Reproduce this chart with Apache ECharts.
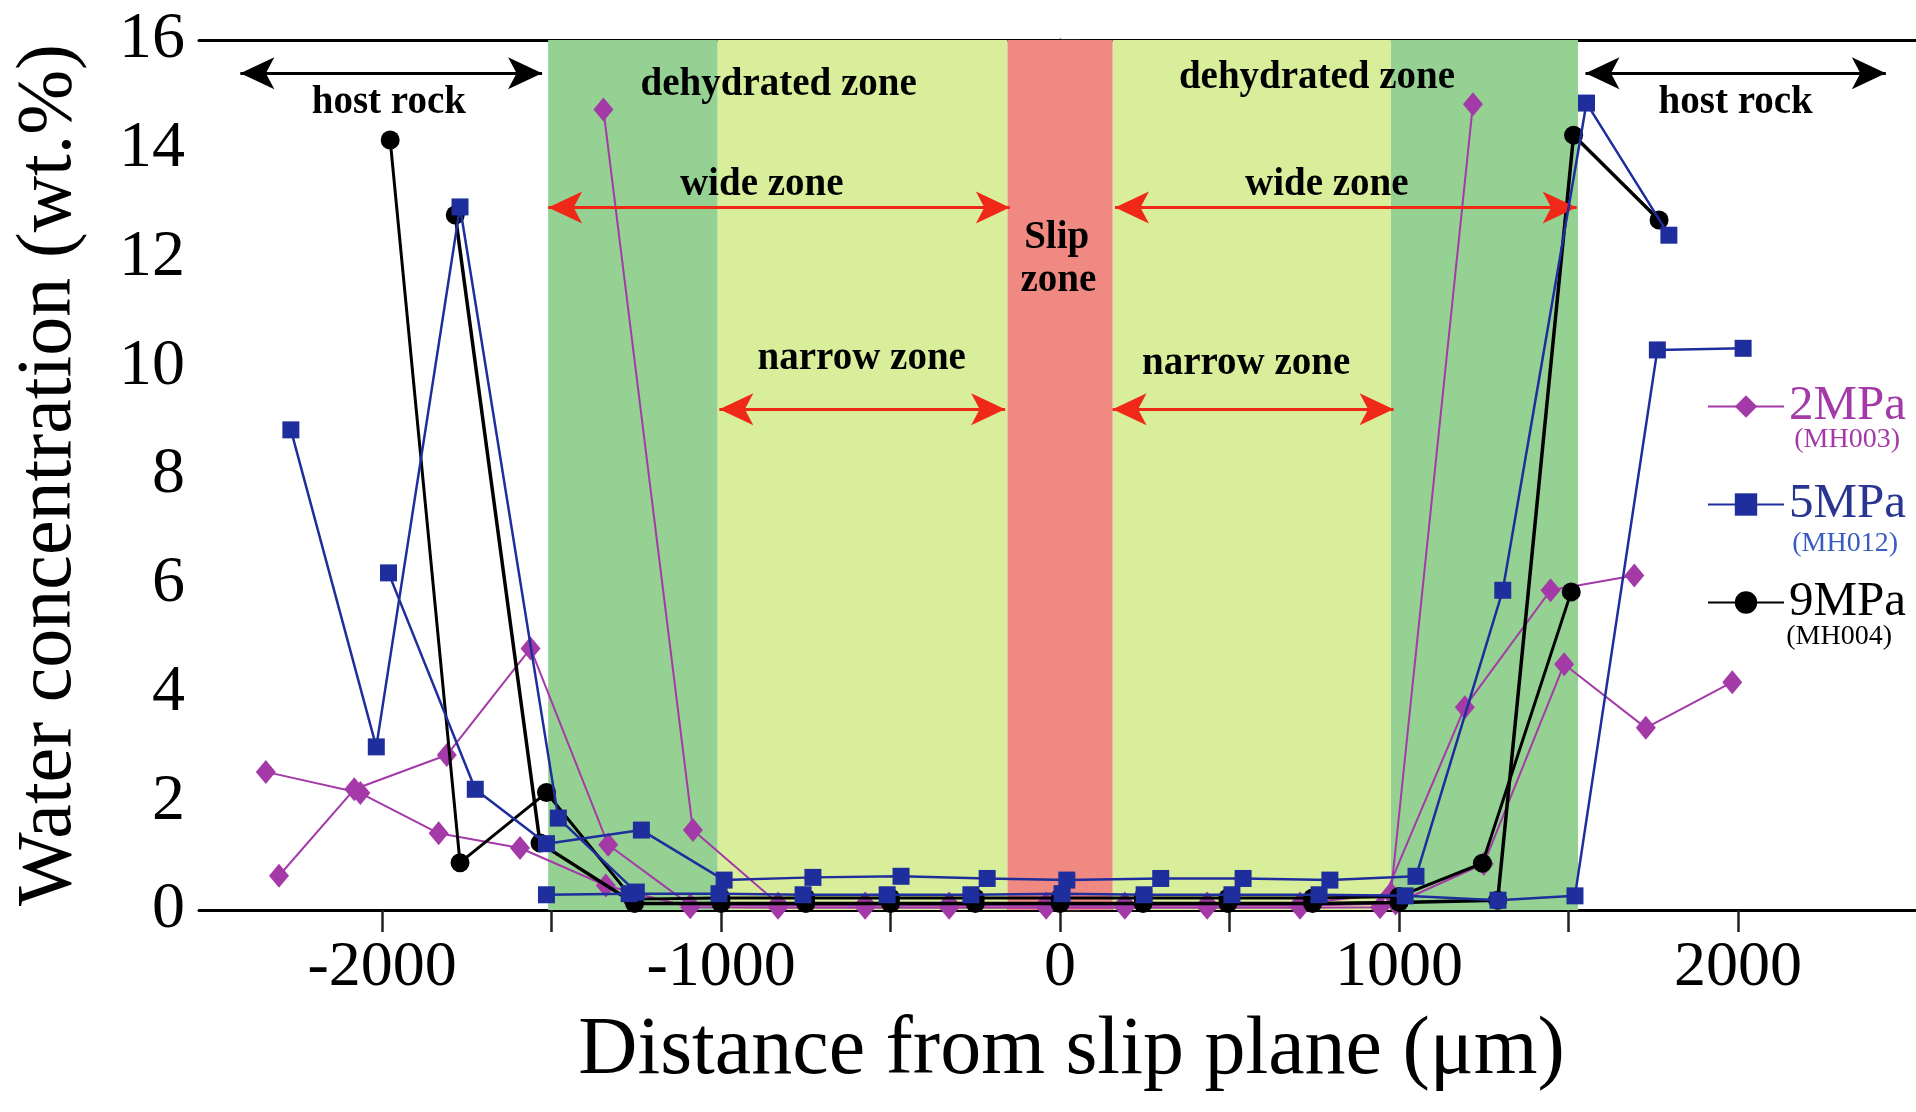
<!DOCTYPE html>
<html>
<head>
<meta charset="utf-8">
<title>Water concentration vs distance from slip plane</title>
<script src="https://cdn.jsdelivr.net/npm/echarts@6/dist/echarts.min.js"></script>
<style>
html, body { margin: 0; padding: 0; background: #fff; }
#chart { width: 1916px; height: 1112px; }
</style>
</head>
<body>
<div id="chart"></div>
<script>
// tick values
const xTicks = [-2000, -1500, -1000, -500, 0, 500, 1000, 1500, 2000]
const xLabels = [-2000, -1000, 0, 1000, 2000]

// 2MPa (MH003) traverses
const mpa2A = [[-2343, 2.54], [-2064, 2.15], [-1833, 1.41], [-1593, 1.14], [-1340, 0.45], [-1091, 0.05], [-832, 0.04], [-575, 0.04], [-327, 0.04], [-41, 0.04], [191, 0.04], [434, 0.04], [708, 0.04], [944, 0.05], [1194, 3.73], [1447, 5.88], [1694, 6.15]]
const mpa2B = [[-2304, 0.63], [-2082, 2.22], [-1809, 2.85], [-1562, 4.81], [-1333, 1.2], [-1091, 0.09], [-832, 0.08], [-575, 0.08], [-327, 0.08], [-41, 0.08], [191, 0.08], [434, 0.08], [708, 0.08], [990, 0.12], [1250, 0.85], [1487, 4.52], [1728, 3.35], [1983, 4.19]]
const mpa2C = [[-1347, 14.72], [-1083, 1.47], [-832, 0.12], [-575, 0.12], [-327, 0.12], [-41, 0.12], [191, 0.12], [434, 0.12], [708, 0.12], [976, 0.3], [1218, 14.82]]

// 5MPa (MH012) traverses
const mpa5A = [[-2269, 8.83], [-2017, 3.0], [-1770, 12.93], [-1480, 1.69], [-1250, 0.33]]
const mpa5B = [[-1981, 6.2], [-1725, 2.22], [-1515, 1.22], [-1235, 1.47], [-991, 0.55], [-729, 0.6], [-469, 0.62], [-215, 0.58], [20, 0.55], [297, 0.58], [540, 0.58], [796, 0.55], [1050, 0.62], [1306, 5.88], [1553, 14.84], [1796, 12.41]]
const mpa5C = [[-1515, 0.28], [-1271, 0.3], [-1006, 0.3], [-758, 0.28], [-510, 0.28], [-263, 0.28], [6, 0.3], [248, 0.28], [507, 0.28], [764, 0.28], [1018, 0.26], [1292, 0.18], [1519, 0.26], [1762, 10.3], [2015, 10.33]]

// 9MPa (MH004) traverses
const mpa9A = [[-1976, 14.16], [-1770, 0.87], [-1515, 2.16], [-1260, 0.2], [-1000, 0.22], [-750, 0.22], [-500, 0.22], [-250, 0.22], [0, 0.22], [245, 0.22], [495, 0.22], [745, 0.22], [1000, 0.25], [1246, 0.86], [1508, 5.85]]
const mpa9B = [[-1784, 12.78], [-1534, 1.23], [-1255, 0.12], [-1000, 0.12], [-750, 0.12], [-500, 0.12], [-250, 0.12], [0, 0.12], [245, 0.12], [495, 0.12], [745, 0.12], [1000, 0.14], [1291, 0.18], [1515, 14.25], [1767, 12.69]]

// zones (x ranges, um)
const dehydratedZones = [[-1510, -1010], [976, 1528]]
const wideOnlyZones = [[-1010, -155], [155, 976]]
const slipZone = [[-155, 155]]

// arrows [x1, x2, y]
const hostArrows = [[-2418, -1528, 15.39], [1550, 2436, 15.39]]
const wideArrows = [[-1510, -148, 12.92], [162, 1524, 12.92]]
const narrowArrows = [[-1005, -162, 9.21], [155, 984, 9.21]]

// annotations [x, y, text]
const notes = [
  [-1980, 14.85, 'host rock'],
  [1993, 14.85, 'host rock'],
  [-830, 15.17, 'dehydrated zone'],
  [758, 15.3, 'dehydrated zone'],
  [-880, 13.33, 'wide zone'],
  [787, 13.33, 'wide zone'],
  [-10, 12.36, 'Slip'],
  [-5, 11.57, 'zone'],
  [-585, 10.13, 'narrow zone'],
  [549, 10.04, 'narrow zone']
]

const MAG = '#a43aa8'
const BLUE = '#1e2e9c'
const BLACK = '#000000'
const FONT = 'Liberation Serif'

const chart = echarts.init(document.getElementById('chart'))

const lineSeries = (name, data, color, symbol, size, width, z) => ({
  name,
  type: 'line',
  data,
  z,
  symbol,
  symbolSize: size,
  showSymbol: true,
  itemStyle: { color },
  lineStyle: { color, width },
  emphasis: { disabled: true }
})

const areaData = (ranges, color) => ranges.map(r => [{ xAxis: r[0], itemStyle: { color } }, { xAxis: r[1] }])
const arrowData = (list, color) => list.map(a => [
  { coord: [a[0], a[2]], lineStyle: { color, width: 3, type: 'solid' } },
  { coord: [a[1], a[2]] }
])

const option = {
  animation: false,
  backgroundColor: '#fff',
  grid: { left: 199, right: 0, top: 40, bottom: 202, containLabel: false },
  legend: {
    data: [
      { name: '2MPa', textStyle: { color: MAG } },
      { name: '5MPa', textStyle: { color: '#2a3592' } },
      { name: '9MPa', textStyle: { color: BLACK } }
    ],
    orient: 'vertical',
    left: 1702,
    top: 377,
    itemWidth: 76,
    itemHeight: 28,
    itemGap: 49,
    itemTextGap: 9,
    selectedMode: false,
    textStyle: { fontFamily: FONT, fontSize: 49, lineHeight: 48 }
  },
  xAxis: [
    {
      type: 'value',
      min: -2540,
      max: 2525,
      name: 'Distance from slip plane (\u03bcm)',
      nameLocation: 'middle',
      nameGap: 100,
      nameTextStyle: { fontFamily: FONT, fontSize: 82, color: BLACK, padding: [0, 0, 0, 28] },
      axisLine: { lineStyle: { color: BLACK, width: 3 } },
      axisTick: { show: true, inside: false, length: 22, lineStyle: { color: '#222', width: 2.5 }, customValues: xTicks },
      axisLabel: { fontFamily: FONT, fontSize: 64, color: BLACK, margin: 26, customValues: xLabels, formatter: v => String(v) },
      splitLine: { show: false }
    },
    {
      type: 'value',
      position: 'top',
      min: -2540,
      max: 2525,
      axisLine: { show: true, lineStyle: { color: BLACK, width: 3 } },
      axisTick: { show: false },
      axisLabel: { show: false },
      splitLine: { show: false }
    }
  ],
  yAxis: {
    type: 'value',
    min: 0,
    max: 16,
    interval: 2,
    name: 'Water concentration (wt.%)',
    nameLocation: 'middle',
    nameGap: 110,
    nameTextStyle: { fontFamily: FONT, fontSize: 78, color: BLACK },
    axisLine: { show: true, lineStyle: { color: BLACK, width: 3 } },
    axisTick: { show: true, inside: true, length: 20, lineStyle: { color: '#222', width: 2.5 } },
    axisLabel: { fontFamily: FONT, fontSize: 66, color: BLACK, margin: 14 },
    splitLine: { show: false }
  },
  graphic: [
    { type: 'text', x: 1900, y: 440, style: { text: '(MH003)', font: '28px "Liberation Serif"', fill: MAG, textAlign: 'right', textVerticalAlign: 'middle' } },
    { type: 'text', x: 1898, y: 544, style: { text: '(MH012)', font: '28px "Liberation Serif"', fill: '#3a5cc0', textAlign: 'right', textVerticalAlign: 'middle' } },
    { type: 'text', x: 1892, y: 637, style: { text: '(MH004)', font: '28px "Liberation Serif"', fill: BLACK, textAlign: 'right', textVerticalAlign: 'middle' } }
  ],
  series: [
    {
      name: 'zones',
      type: 'scatter',
      data: [],
      z: 1,
      silent: true,
      markArea: {
        silent: true,
        data: [
          ...areaData(dehydratedZones, '#95d193'),
          ...areaData(wideOnlyZones, '#d9ee9b'),
          ...areaData(slipZone, '#ef8981')
        ]
      }
    },
    lineSeries('2MPa', mpa2A, MAG, 'diamond', [20, 24], 2, 3),
    lineSeries('2MPa', mpa2B, MAG, 'diamond', [20, 24], 2, 3),
    lineSeries('2MPa', mpa2C, MAG, 'diamond', [20, 24], 2, 3),
    lineSeries('9MPa', mpa9A, BLACK, 'circle', 19, 3, 4),
    lineSeries('9MPa', mpa9B, BLACK, 'circle', 19, 3.5, 4),
    lineSeries('5MPa', mpa5A, BLUE, 'rect', 17, 2.5, 5),
    lineSeries('5MPa', mpa5B, BLUE, 'rect', 17, 2.5, 5),
    lineSeries('5MPa', mpa5C, BLUE, 'rect', 17, 2.5, 5),
    {
      name: 'arrows',
      type: 'scatter',
      data: [],
      z: 6,
      silent: true,
      markLine: {
        silent: true,
        symbol: ['arrow', 'arrow'],
        symbolSize: [24, 34],
        label: { show: false },
        emphasis: { disabled: true },
        data: [
          ...arrowData(hostArrows, '#000'),
          ...arrowData(wideArrows, '#f02818'),
          ...arrowData(narrowArrows, '#f02818')
        ]
      }
    },
    {
      name: 'notes',
      type: 'scatter',
      z: 7,
      silent: true,
      symbolSize: 0,
      itemStyle: { opacity: 1 },
      data: notes.map(n => ({ value: [n[0], n[1]], name: n[2] })),
      label: {
        show: true,
        position: 'inside',
        formatter: '{b}',
        fontFamily: FONT,
        fontWeight: 'bold',
        fontSize: 39,
        color: '#000',
        opacity: 1
      }
    }
  ]
}

chart.setOption(option)
</script>
</body>
</html>
